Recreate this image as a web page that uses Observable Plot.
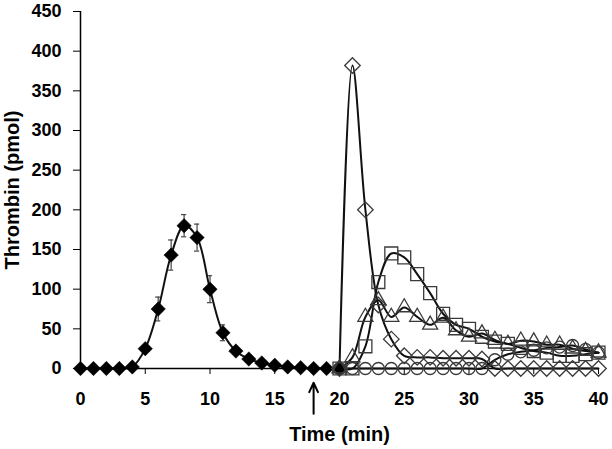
<!DOCTYPE html>
<html><head><meta charset="utf-8">
<script src="https://cdn.jsdelivr.net/npm/d3@7"></script>
<script src="https://cdn.jsdelivr.net/npm/@observablehq/plot@0.6"></script>
<style>body{margin:0;background:#fff}</style>
</head><body><div id="chart"></div>
<script>
// Series 1: filled diamonds (first phase), with error bars
const time1 = [0,1,2,3,4,5,6,7,8,9,10,11,12,13,14,15,16,17,18,19,20];
const thrombin1 = [0,0,0,0,2,25,75,143,180,165,100,45,22,12,7,4,2,1,0,0,0];
const err1 = [0,0,0,0,0,0,15,19,14,17,17,10,0,0,0,0,0,0,0,0,0];
// Second phase series (t = 20..40)
const time2 = [20,21,22,23,24,25,26,27,28,29,30,31,32,33,34,35,36,37,38,39,40];
const openDiamond = [0,382,200,80,37,16,14,14,13,13,13,12,0,0,0,0,0,0,0,0,0];
const openSquare = [0,0,28,109,145,140,119,95,69,55,50,40,34,31,26,22,20,16,16,18,20];
const openTriangle = [0,14,65,86,65,77,65,55,64,48,40,44,36,31,35,34,30,30,25,22,20];
const openCircle = [0,0,0,0,0,0,0,0,0,0,0,0,11,18,21,23,26,27,29,24,20];
const arrowAt = [18];
const xTicks = [0,5,10,15,20,25,30,35,40];
const yTicks = [0,50,100,150,200,250,300,350,400,450];

const s1 = time1.map((t,i)=>({t, v: thrombin1[i], e: err1[i]}));
const errRows = s1.filter(d=>d.e>0);
const mk = (vals)=>time2.map((t,i)=>({t, v: vals[i]}));
const sD = mk(openDiamond), sS = mk(openSquare), sT = mk(openTriangle), sC = mk(openCircle);

const lineOpt = {x:"t", y:"v", curve:"catmull-rom", stroke:"#111", strokeWidth:2};
const openDot = (sym, r)=>({x:"t", y:"v", symbol: sym, r, fill:"none", stroke:"#3a3a3a", strokeWidth:1.3});

const chart = Plot.plot({
  width: 612, height: 449,
  marginLeft: 80, marginRight: 14, marginTop: 11, marginBottom: 81,
  style: {fontFamily: "'Liberation Sans', Arial, sans-serif", fontSize: "18px", fontWeight: "bold", background: "#fff", color: "#000"},
  x: {domain: [0,40]},
  y: {domain: [0,450]},
  marks: [
    Plot.axisX({ticks: xTicks, tickSize: 6, tickPadding: 18, label: null, fontSize: 18}),
    Plot.axisX({ticks: [], tickSize: 0, label: "Time (min)", labelAnchor: "center", labelArrow: "none", labelOffset: 72, fontSize: 20}),
    Plot.axisY({ticks: yTicks, tickSize: 7, tickPadding: 12, label: null, fontSize: 18}),
    Plot.axisY({ticks: [], tickSize: 0, label: "Thrombin (pmol)", labelAnchor: "center", labelArrow: "none", labelOffset: 76, fontSize: 20}),
    Plot.ruleX([0], {y1: 0, y2: 450, stroke: "#000", strokeWidth: 1.5}),
    Plot.ruleY([0], {stroke: "#000", strokeWidth: 1.5}),
    // error bars
    Plot.ruleX(errRows, {x: "t", y1: d=>d.v-d.e, y2: d=>d.v+d.e, stroke: "#444", strokeWidth: 1.2}),
    Plot.ruleY(errRows, {y: d=>d.v+d.e, x1: d=>d.t-0.2, x2: d=>d.t+0.2, stroke: "#444", strokeWidth: 1.2}),
    Plot.ruleY(errRows, {y: d=>d.v-d.e, x1: d=>d.t-0.2, x2: d=>d.t+0.2, stroke: "#444", strokeWidth: 1.2}),
    // lines
    Plot.line(s1, lineOpt),
    Plot.line(sD, lineOpt),
    Plot.line(sS, lineOpt),
    Plot.line(sT, lineOpt),
    Plot.line(sC, lineOpt),
    // markers
    Plot.dot(s1, {x:"t", y:"v", symbol:"diamond2", r:6.5, fill:"#000", stroke:"#000", strokeWidth:0.5}),
    Plot.dot(sD, openDot("diamond2", 7)),
    Plot.dot(sS, openDot("square", 7.3)),
    Plot.dot(sT, openDot("triangle", 5.6)),
    Plot.dot(sC, openDot("circle", 6)),
    // arrow marking the second addition
    Plot.arrow(arrowAt, {x1: d=>d, x2: d=>d, y1: -57, y2: -18, stroke: "#000", strokeWidth: 2, headLength: 8, headAngle: 50, clip: false})
  ]
});
document.getElementById("chart").appendChild(chart);
</script>
</body></html>
